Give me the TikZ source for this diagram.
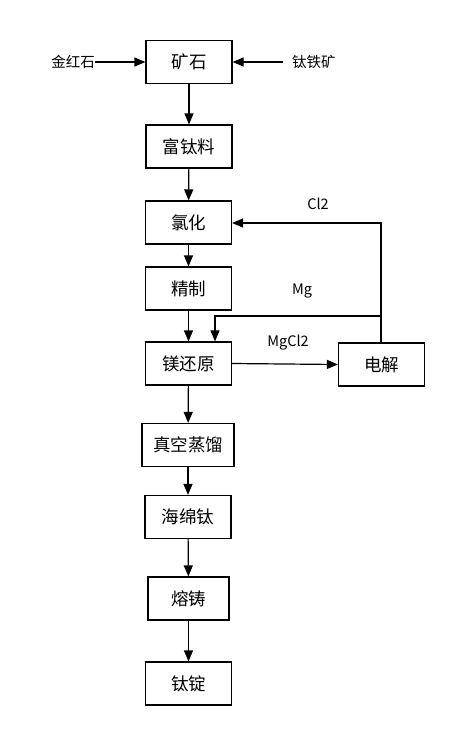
\documentclass[tikz,border=0pt]{standalone}
\usepackage{fontspec}
\setmainfont{Noto Sans CJK SC}
\usetikzlibrary{arrows.meta}
\begin{document}
\begin{tikzpicture}[x=1pt,y=-1pt,
  box/.style={draw,line width=1.2pt,minimum width=86pt,minimum height=43pt,inner sep=0pt,font=\fontsize{17.5}{20}\selectfont},
  lab/.style={font=\fontsize{14.5}{17}\selectfont,inner sep=0pt},
  arr/.style={line width=1.2pt,-{Triangle[length=11pt,width=9pt]}}]
\useasboundingbox (0,0) rectangle (450,732);
\node[box] (ore) at (189,62) {矿石};
\node[box] (rich) at (189,146.5) {富钛料};
\node[box] (chl) at (188.5,222.5) {氯化};
\node[box] (ref) at (188.5,288.5) {精制};
\node[box] (mgr) at (188.5,363.5) {镁还原};
\node[box] (ele) at (381.5,364.5) {电解};
\node[box,minimum width=92pt] (vac) at (188,445) {真空蒸馏};
\node[box] (spg) at (188,517) {海绵钛};
\node[box,minimum width=81pt] (mel) at (188.5,598.5) {熔铸};
\node[box] (ing) at (188.5,683.5) {钛锭};
\node[lab,anchor=east] (rut) at (95,62) {金红石};
\node[lab,anchor=west] (ilm) at (292,62) {钛铁矿};
\coordinate (ilmend) at (283,62);
\draw[arr] (rut) -- (ore);
\draw[arr] (ilmend) -- (ore);
\draw[arr] (ore) -- (rich);
\draw[arr] (rich) -- (chl);
\draw[arr] (chl) -- (ref);
\draw[arr] (ref) -- (mgr);
\draw[arr] (mgr) -- (vac);
\draw[arr] (vac) -- (spg);
\draw[arr] (spg) -- (mel);
\draw[arr] (mel) -- (ing);
\draw[arr] (mgr.east) -- (ele.west);
\coordinate (c1) at (381,223);
\coordinate (m1) at (381,316);
\coordinate (m2) at (215,316);
\draw[arr] (ele.north -| c1) -- (c1) -- (chl.east |- c1);
\draw[arr] (m1) -- (m2) -- (m2 |- mgr.north);
\node[lab] (lcl) at (318,204) {Cl2};
\node[lab] (lmg) at (302,291) {Mg};
\node[lab] (lmgcl) at (288,343) {MgCl2};
\end{tikzpicture}
\end{document}
